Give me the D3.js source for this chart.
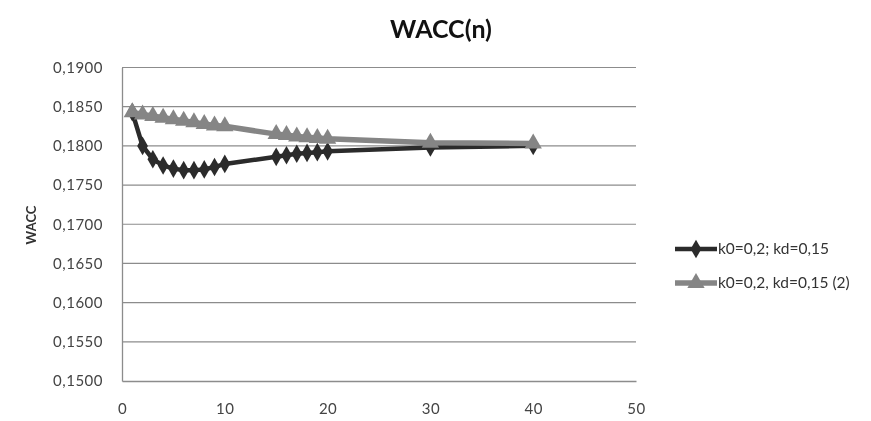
<!DOCTYPE html>
<html>
<head>
<meta charset="utf-8">
<script src="https://cdn.jsdelivr.net/npm/d3@7"></script>
<style>
  html, body { margin: 0; padding: 0; background: #fff; }
  svg { display: block; filter: blur(0.5px); }
</style>
</head>
<body>
<svg id="chart" width="871" height="421"></svg>
<script>
// data
const nValues1 = [1, 2, 3, 4, 5, 6, 7, 8, 9, 10, 15, 16, 17, 18, 19, 20, 30, 40];
const wacc1 = [0.1843, 0.1800, 0.1783, 0.1775, 0.1771, 0.1769, 0.1769, 0.1770, 0.1773, 0.1777,
               0.1786, 0.1788, 0.1790, 0.1791, 0.1792, 0.1793, 0.1798, 0.1800];
const nValues2 = [1, 2, 3, 4, 5, 6, 7, 8, 9, 10, 15, 16, 17, 18, 19, 20, 30, 40];
const wacc2 = [0.1843, 0.1840, 0.1838, 0.1836, 0.1834, 0.1832, 0.1830, 0.1828, 0.1826, 0.1825,
               0.1815, 0.1814, 0.1812, 0.1811, 0.1810, 0.1809, 0.1804, 0.1803];
const seriesNames = ["k0=0,2; kd=0,15", "k0=0,2, kd=0,15 (2)"];
const xTicks = [0, 10, 20, 30, 40, 50];
const yTicks = [0.15, 0.155, 0.16, 0.165, 0.17, 0.175, 0.18, 0.185, 0.19];

const m = {left: 122, right: 636, top: 67.5, bottom: 381};
const fmt = v => v.toFixed(4).replace(".", ",");
const font = "Lato, 'Open Sans', sans-serif";

const svg = d3.select("#chart");
const x = d3.scaleLinear().domain([0, 50]).range([m.left, m.right]);
const y = d3.scaleLinear().domain([0.15, 0.19]).range([m.bottom, m.top]);

// grid lines
svg.append("g").selectAll("line")
    .data(yTicks.slice(1))
    .join("line")
    .attr("x1", m.left).attr("x2", m.right)
    .attr("y1", d => y(d)).attr("y2", d => y(d))
    .attr("stroke", "#8c8c8c").attr("stroke-width", 1.2);

// axes
const yAxis = svg.append("g")
    .attr("transform", `translate(${m.left},0)`)
    .call(d3.axisLeft(y).tickValues(yTicks).tickFormat(fmt).tickSize(0).tickPadding(19));
const xAxis = svg.append("g")
    .attr("transform", `translate(0,${m.bottom})`)
    .call(d3.axisBottom(x).tickValues(xTicks).tickSize(0).tickPadding(22));
[yAxis, xAxis].forEach(g => {
    g.select(".domain").attr("stroke", "#8c8c8c").attr("stroke-width", 1.3);
    g.selectAll("text").attr("font-family", font).attr("font-size", 15)
        .attr("letter-spacing", 0.5).attr("fill", "#444");
});

const line = d3.line().x(d => x(d[0])).y(d => y(d[1]));
const pts1 = nValues1.map((n, i) => [n, wacc1[i]]);
const pts2 = nValues2.map((n, i) => [n, wacc2[i]]);

// series 1: dark with diamonds
svg.append("path").datum(pts1)
    .attr("d", line).attr("fill", "none")
    .attr("stroke", "#2b2b2b").attr("stroke-width", 4.5);
svg.append("g").selectAll("path")
    .data(pts1).join("path")
    .attr("transform", d => `translate(${x(d[0])},${y(d[1])})`)
    .attr("d", d3.symbol(d3.symbolDiamond, 100))
    .attr("fill", "#2b2b2b");

// series 2: gray with triangles
svg.append("path").datum(pts2)
    .attr("d", line).attr("fill", "none")
    .attr("stroke", "#858585").attr("stroke-width", 5.5);
svg.append("g").selectAll("path")
    .data(pts2).join("path")
    .attr("transform", d => `translate(${x(d[0])},${y(d[1])})`)
    .attr("d", d3.symbol(d3.symbolTriangle, 130))
    .attr("fill", "#858585");

// title and axis label
svg.append("text")
    .attr("x", 441).attr("y", 38)
    .attr("text-anchor", "middle")
    .attr("font-family", font).attr("font-weight", "bold").attr("font-size", 25)
    .attr("fill", "#111")
    .text("WACC(n)");
svg.append("text")
    .attr("transform", "translate(36,225) rotate(-90)")
    .attr("text-anchor", "middle")
    .attr("font-family", font).attr("font-weight", "bold").attr("font-size", 13)
    .attr("fill", "#333")
    .text("WACC");

// legend
const legend = svg.append("g");
const legColors = ["#2b2b2b", "#858585"];
const legSymbols = [d3.symbolDiamond, d3.symbolTriangle];
seriesNames.forEach((name, i) => {
    const ly = 249 + i * 34;
    legend.append("line")
        .attr("x1", 675).attr("x2", 717).attr("y1", ly).attr("y2", ly)
        .attr("stroke", legColors[i]).attr("stroke-width", i ? 5.5 : 4.5);
    legend.append("path")
        .attr("transform", `translate(696,${ly})`)
        .attr("d", d3.symbol(legSymbols[i], i ? 130 : 100))
        .attr("fill", legColors[i]);
    legend.append("text")
        .attr("x", 718).attr("y", ly + 5)
        .attr("font-family", font).attr("font-size", 15.5)
        .attr("fill", "#333")
        .text(name);
});
</script>
</body>
</html>
